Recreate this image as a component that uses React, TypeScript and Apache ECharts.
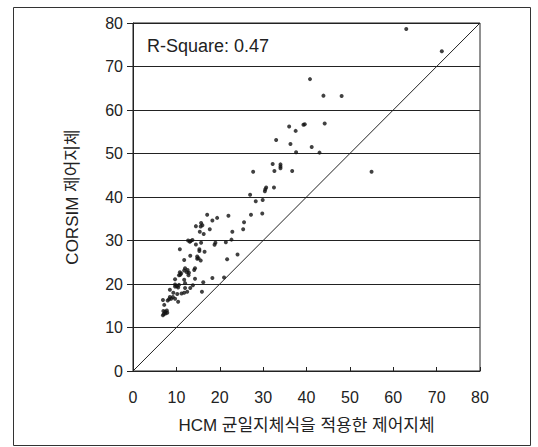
import React, { useEffect, useRef } from "react";
import * as echarts from "echarts";

const xTicks = [0, 10, 20, 30, 40, 50, 60, 70, 80];
const yTicks = [0, 10, 20, 30, 40, 50, 60, 70, 80];

const xTitle = "HCM 균일지체식을 적용한 제어지체";
const yTitle = "CORSIM 제어지체";
const rSquareLabel = "R-Square: 0.47";

// HCM uniform delay (x) vs CORSIM control delay (y)
const hcmDelay = [
  63.0, 71.2, 40.8, 43.9, 48.1, 39.3, 39.6, 44.2, 36.0, 37.5,
  33.0, 36.3, 41.2, 37.6, 43.0, 55.0, 32.2, 34.0, 34.0, 34.0,
  32.6, 36.7, 27.7, 30.7, 30.5, 30.4, 32.5, 27.0, 28.3, 29.9,
  27.2, 29.8, 22.0, 25.6, 25.4, 22.9, 22.7, 21.4, 24.1, 21.7,
  21.0, 18.3, 15.9, 16.2, 17.1, 15.7, 16.0, 15.6, 14.5, 18.3,
  19.4, 15.4, 16.3, 17.7, 12.7, 13.3, 13.7, 13.1, 14.5, 15.7,
  19.0, 18.8, 10.8, 15.3, 15.3, 16.5, 14.8, 14.8, 13.2, 15.1,
  11.8, 15.6, 14.3, 14.1, 12.0, 12.6, 12.4, 12.9, 12.8, 11.8,
  10.8, 11.1, 10.6, 10.9, 11.8, 9.7, 14.3, 9.7, 10.1, 9.7,
  10.6, 10.4, 12.0, 12.0, 13.2, 13.8, 8.5, 9.3, 10.2, 11.2,
  11.8, 12.5, 8.3, 8.0, 8.8, 9.2, 8.5, 9.7, 6.9, 10.4,
  7.2, 7.0, 7.4, 7.8, 7.1, 7.5, 7.9, 6.9,
];
const corsimDelay = [
  78.6, 73.5, 67.1, 63.3, 63.2, 56.6, 56.7, 56.9, 56.2, 55.2,
  53.1, 52.2, 51.5, 50.3, 50.2, 45.8, 47.6, 47.5, 47.0, 46.6,
  46.0, 46.0, 45.8, 42.2, 41.8, 41.3, 42.2, 40.5, 39.0, 39.3,
  35.9, 36.2, 35.7, 34.2, 32.6, 32.0, 30.2, 29.6, 26.8, 25.7,
  21.5, 21.4, 18.2, 20.4, 35.9, 34.0, 33.5, 33.2, 33.3, 34.6,
  35.2, 32.0, 31.5, 32.6, 30.0, 29.9, 30.1, 29.7, 29.1, 29.5,
  29.5, 29.0, 28.0, 28.0, 27.6, 27.4, 26.3, 25.8, 26.5, 25.9,
  25.5, 25.4, 23.6, 23.2, 23.6, 23.2, 22.7, 22.6, 22.0, 23.1,
  22.7, 22.4, 22.0, 22.1, 21.0, 21.1, 21.2, 19.9, 19.5, 19.4,
  19.8, 19.2, 20.2, 19.1, 19.1, 19.7, 18.7, 18.0, 17.7, 17.8,
  18.0, 18.2, 16.5, 16.2, 16.6, 17.0, 17.0, 16.6, 16.3, 15.9,
  15.2, 13.8, 13.6, 13.9, 13.1, 13.2, 13.4, 12.8,
];
const equalityLine = [
  [0, 0],
  [80, 80],
];

const FONT = "'Liberation Sans', Arial, 'Noto Sans CJK KR', sans-serif";
const KFONT = "'Liberation Sans', 'Noto Sans CJK KR', sans-serif";
const INK = "#222";

export default function App() {
  const ref = useRef<HTMLDivElement>(null);

  useEffect(() => {
    if (!ref.current) return;
    const chart = echarts.init(ref.current, null, { renderer: "svg" });
    const points = hcmDelay.map((x, i) => [x, corsimDelay[i]]);
    chart.setOption({
      animation: false,
      backgroundColor: "#fff",
      textStyle: { fontFamily: FONT, color: INK },
      grid: {
        left: 133,
        right: 58,
        top: 23,
        bottom: 76,
        show: true,
        borderColor: INK,
        borderWidth: 1,
      },
      xAxis: {
        type: "value",
        min: xTicks[0],
        max: xTicks[xTicks.length - 1],
        interval: 10,
        name: xTitle,
        nameLocation: "middle",
        nameGap: 46,
        nameTextStyle: { fontSize: 17, color: INK, fontFamily: KFONT },
        axisLine: { show: true, lineStyle: { color: INK, width: 1 } },
        axisTick: { show: true, inside: true, length: 4, lineStyle: { color: INK } },
        axisLabel: { fontSize: 16, color: INK, margin: 18, fontFamily: FONT },
        splitLine: { show: false },
      },
      yAxis: {
        type: "value",
        min: yTicks[0],
        max: yTicks[yTicks.length - 1],
        interval: 10,
        name: yTitle,
        nameLocation: "middle",
        nameGap: 52,
        nameRotate: 90,
        nameTextStyle: { fontSize: 17, color: INK, fontFamily: KFONT },
        axisLine: { show: true, lineStyle: { color: INK, width: 1 } },
        axisTick: { show: true, inside: false, length: 6, lineStyle: { color: INK } },
        axisLabel: { fontSize: 16, color: INK, margin: 10, fontFamily: FONT },
        splitLine: { show: true, lineStyle: { color: INK, width: 1 } },
      },
      graphic: [
        {
          type: "rect",
          left: 11,
          top: 5,
          shape: { width: 517, height: 438 },
          style: { fill: "none", stroke: "#333", lineWidth: 1 },
          silent: true,
          z: -1,
        },
        {
          type: "text",
          left: 147,
          top: 37,
          style: {
            text: rSquareLabel,
            font: `18px ${FONT}`,
            fill: INK,
          },
        },
      ],
      series: [
        {
          type: "line",
          data: equalityLine,
          symbol: "none",
          lineStyle: { color: INK, width: 1 },
          silent: true,
        },
        {
          type: "scatter",
          data: points,
          symbol: "circle",
          symbolSize: 4,
          itemStyle: { color: "#111" },
        },
      ],
    });
    return () => chart.dispose();
  }, []);

  return (
    <div
      ref={ref}
      style={{ position: "fixed", left: 0, top: 0, width: 538, height: 447 }}
    />
  );
}
